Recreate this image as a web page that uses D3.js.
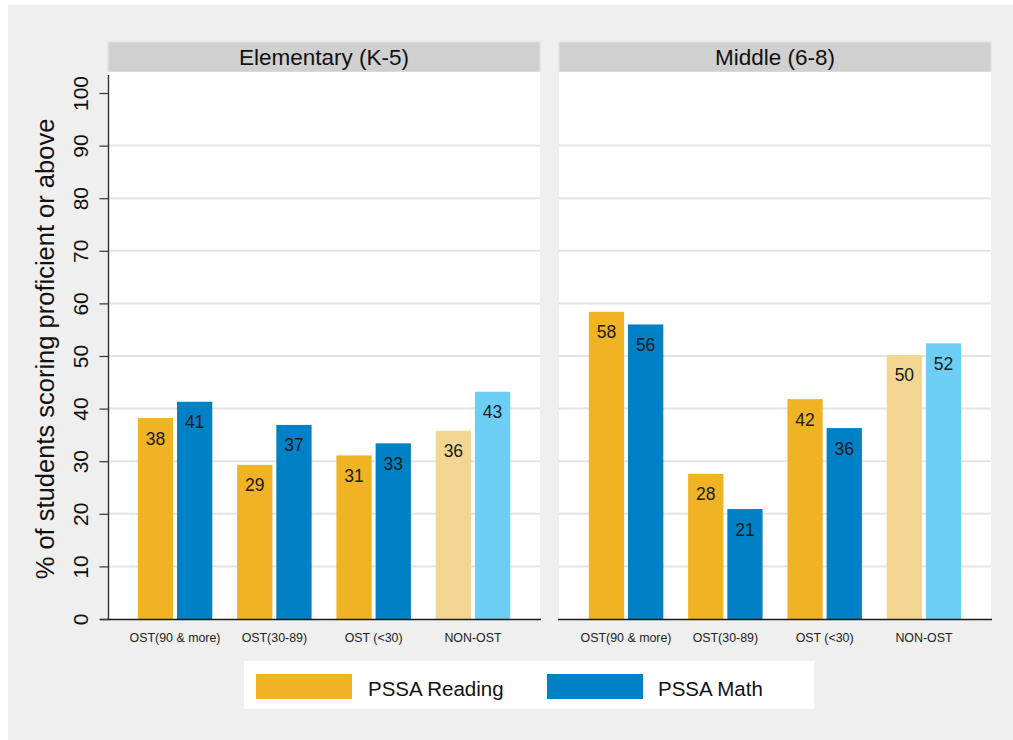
<!DOCTYPE html>
<html>
<head>
<meta charset="utf-8">
<script src="https://cdn.jsdelivr.net/npm/d3@7/dist/d3.min.js"></script>
<style>
  html, body { margin: 0; padding: 0; background: #ffffff; }
  svg { display: block; }
  text { font-family: "Liberation Sans", Arial, sans-serif; }
</style>
</head>
<body>
<script>
// ---- Data ----
const panels = ["Elementary (K-5)", "Middle (6-8)"];
const categories = ["OST(90 & more)", "OST(30-89)", "OST (<30)", "NON-OST"];
const seriesNames = ["PSSA Reading", "PSSA Math"];
const elementaryReading = [38.2, 29.3, 31.1, 35.8];
const elementaryMath = [41.3, 36.9, 33.4, 43.2];
const middleReading = [58.4, 27.6, 41.8, 50.2];
const middleMath = [56.0, 20.9, 36.3, 52.4];
const yTicks = [0, 10, 20, 30, 40, 50, 60, 70, 80, 90, 100];
const gridTicks = [10, 20, 30, 40, 50, 60, 70, 80, 90];
const yTitle = "% of students scoring proficient or above";

const panelData = [
  { name: panels[0], reading: elementaryReading, math: elementaryMath },
  { name: panels[1], reading: middleReading, math: middleMath }
];

// ---- Styles ----
const W = 1013, H = 740;
const colors = {
  "PSSA Reading": "#F0B323",
  "PSSA Math": "#0081C6",
  "PSSA Reading light": "#F2D692",
  "PSSA Math light": "#6DCEF5"
};
const panelX = [[108, 540], [559, 991]];
const headerTop = 42, plotTop = 72, plotBottom = 619;

const svg = d3.select("body").append("svg").attr("width", W).attr("height", H);
svg.append("rect").attr("x", 8).attr("y", 5).attr("width", W - 8).attr("height", H - 5).attr("fill", "#efefef");

const y = d3.scaleLinear().domain([0, 100]).range([plotBottom, 93]);

panelData.forEach((p, pi) => {
  const [x0, x1] = panelX[pi];
  const g = svg.append("g");
  // header strip
  g.append("rect").attr("x", x0).attr("y", headerTop).attr("width", x1 - x0).attr("height", plotTop - headerTop)
    .attr("fill", "#d0d0d0").attr("stroke", "#dde3e8").attr("stroke-width", 1);
  g.append("text").attr("x", (x0 + x1) / 2).attr("y", (headerTop + plotTop) / 2 + 7.5)
    .attr("text-anchor", "middle").attr("font-size", 22.5).attr("fill", "#111").text(p.name);
  // plot area
  g.append("rect").attr("x", x0).attr("y", plotTop).attr("width", x1 - x0).attr("height", plotBottom - plotTop).attr("fill", "#ffffff");
  // gridlines
  g.selectAll("line.grid").data(gridTicks).join("line").attr("class", "grid")
    .attr("x1", x0).attr("x2", x1).attr("y1", d => y(d)).attr("y2", d => y(d))
    .attr("stroke", "#e4e4e4").attr("stroke-width", 2);

  const x = d3.scaleBand().domain(categories).range([x0, x1]).paddingInner(0.25).paddingOuter(0.3);
  const xs = d3.scaleBand().domain(seriesNames).range([0, x.bandwidth()]).paddingInner(0.1);

  const rows = [];
  categories.forEach((c, i) => {
    rows.push({ cat: c, s: seriesNames[0], v: p.reading[i], light: c === "NON-OST" });
    rows.push({ cat: c, s: seriesNames[1], v: p.math[i], light: c === "NON-OST" });
  });

  g.selectAll("rect.bar").data(rows).join("rect").attr("class", "bar")
    .attr("x", d => x(d.cat) + xs(d.s)).attr("width", xs.bandwidth())
    .attr("y", d => y(d.v)).attr("height", d => y(0) - y(d.v))
    .attr("fill", d => colors[d.light ? d.s + " light" : d.s]);

  g.selectAll("text.lbl").data(rows).join("text").attr("class", "lbl")
    .attr("x", d => x(d.cat) + xs(d.s) + xs.bandwidth() / 2)
    .attr("y", d => y(d.v) + 26.5)
    .attr("text-anchor", "middle").attr("font-size", 17.5).attr("fill", "#1a1a1a")
    .text(d => Math.round(d.v));

  // x axis
  const xAxis = d3.axisBottom(x).tickSize(0).tickPadding(14);
  const ax = g.append("g").attr("transform", `translate(0,${plotBottom})`).call(xAxis);
  ax.select(".domain").remove();
  ax.selectAll("text").attr("font-size", 12.4).attr("fill", "#222").style("font-family", "'Liberation Sans', Arial, sans-serif");
  g.append("line").attr("x1", pi === 0 ? x0 - 8 : x0 - 1).attr("x2", x1 + 1)
    .attr("y1", plotBottom + 0.5).attr("y2", plotBottom + 0.5).attr("stroke", "#1a1a1a").attr("stroke-width", 1.6);
});

// y axis on left panel
const yAxis = d3.axisLeft(y).tickValues(yTicks).tickSize(9).tickSizeOuter(0);
const ya = svg.append("g").attr("transform", `translate(${panelX[0][0] + 0.5},0)`).call(yAxis);
ya.select(".domain").remove();
ya.selectAll(".tick line").attr("stroke", "#333").attr("stroke-width", 1.2);
ya.selectAll(".tick text")
  .attr("transform", "rotate(-90)")
  .attr("x", 0).attr("y", -21).attr("dy", 0)
  .attr("text-anchor", "middle")
  .attr("font-size", 21).attr("fill", "#111")
  .style("font-family", "'Liberation Sans', Arial, sans-serif");
svg.append("line").attr("x1", panelX[0][0] + 0.5).attr("x2", panelX[0][0] + 0.5)
  .attr("y1", 75).attr("y2", plotBottom).attr("stroke", "#333").attr("stroke-width", 1.4);

svg.append("text").attr("transform", `translate(54,${(118 + 580) / 2}) rotate(-90)`)
  .attr("text-anchor", "middle").attr("font-size", 25.5).attr("fill", "#111").text(yTitle);

// legend
const lg = svg.append("g");
lg.append("rect").attr("x", 244).attr("y", 661).attr("width", 570).attr("height", 48).attr("fill", "#ffffff");
const legendItems = [
  { name: seriesNames[0], sx: 256, tx: 368 },
  { name: seriesNames[1], sx: 547, tx: 658 }
];
lg.selectAll("rect.sw").data(legendItems).join("rect").attr("class", "sw")
  .attr("x", d => d.sx).attr("y", 674).attr("width", 96).attr("height", 25).attr("fill", d => colors[d.name]);
lg.selectAll("text.lt").data(legendItems).join("text").attr("class", "lt")
  .attr("x", d => d.tx).attr("y", 696).attr("font-size", 20.5).attr("fill", "#111").text(d => d.name);
</script>
</body>
</html>
